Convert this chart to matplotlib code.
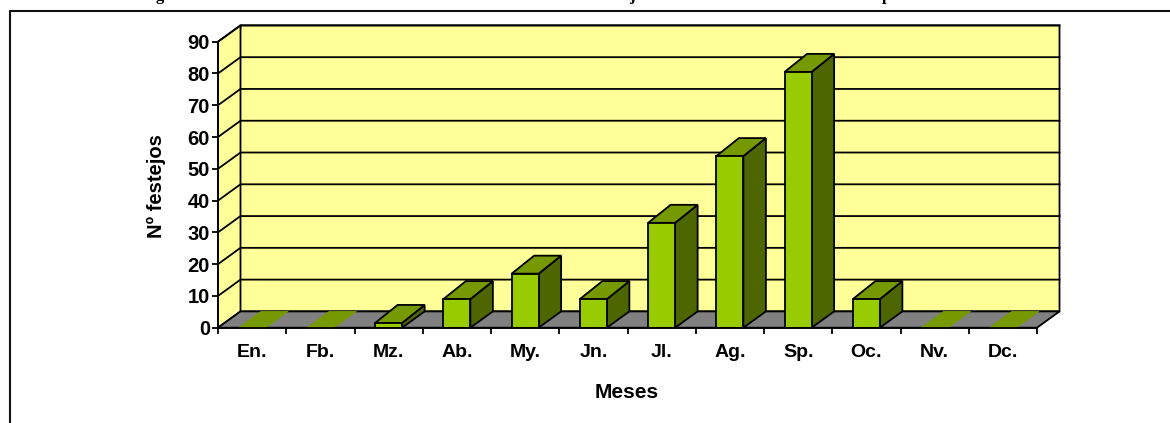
"""Monthly bar chart with an Excel-style pseudo 3D box, drawn in plain 2D axes."""

import matplotlib
matplotlib.use("Agg")
import matplotlib.pyplot as plt
from matplotlib.patches import Polygon
from matplotlib.lines import Line2D

months = ["En.", "Fb.", "Mz.", "Ab.", "My.", "Jn.", "Jl.", "Ag.", "Sp.", "Oc.", "Nv.", "Dc."]
festejos = [0, 0, 1.5, 9, 17, 9, 33, 54, 80.5, 9, 0, 0]
y_ticks = [0, 10, 20, 30, 40, 50, 60, 70, 80, 90]

# only the descenders of the cropped heading are visible in the picture
heading_letters = ["g", "j", "p"]
heading_x_px = [160, 632, 886]

W, H = 1170, 423
LEFT, RIGHT, BASE, TOP = 218, 1037, 327.7, 41.7

WALL = "#FFFF99"
FLOOR = "#808080"
FRONT = "#99CC00"
ROOF = "#779900"
SIDE = "#4D6600"
LW = 1.3

plt.rcParams["font.family"] = ["Liberation Sans", "DejaVu Sans"]

fig = plt.figure(figsize=(W / 100, H / 100), dpi=100)
ax = fig.add_axes([LEFT / W, 1 - BASE / H, (RIGHT - LEFT) / W, (BASE - TOP) / H])
ax.set_xlim(0, 12)
ax.set_ylim(0, 90)
ax.patch.set_visible(False)

# depth of the box, in data units
dx = 22.5 / ((RIGHT - LEFT) / 12)
dy = 16.3 / ((BASE - TOP) / 90)
roof_dy = 18 / ((BASE - TOP) / 90)
bar_w = 27 / ((RIGHT - LEFT) / 12)


def poly(points, color, edge="black", lw=LW, z=2):
    ax.add_patch(Polygon(points, closed=True, facecolor=color, edgecolor=edge,
                         linewidth=lw, clip_on=False, zorder=z, joinstyle="miter"))


# walls and floor
poly([(0, 0), (dx, dy), (12 + dx, dy), (12 + dx, 90 + dy), (dx, 90 + dy)], WALL, z=1)
poly([(0, 0), (dx, dy), (dx, 90 + dy), (0, 90)], WALL, z=1)
poly([(0, 0), (12, 0), (12 + dx, dy), (dx, dy)], FLOOR, z=1)

for v in y_ticks[1:]:
    ax.add_line(Line2D([0, dx, 12 + dx], [v, v + dy, v + dy], color="black",
                       linewidth=LW, clip_on=False, zorder=1.5))

# bars
for i, v in enumerate(festejos):
    x0 = i + 0.5 - bar_w / 2
    x1 = x0 + bar_w
    if v == 0:
        poly([(x0, 0), (x1, 0), (x1 + dx, dy), (x0 + dx, dy)], ROOF, edge=ROOF, lw=0.6, z=2)
        continue
    poly([(x1, 0), (x1 + dx, dy), (x1 + dx, v + roof_dy), (x1, v)], SIDE, z=2)
    poly([(x0, v), (x1, v), (x1 + dx, v + roof_dy), (x0 + dx, v + roof_dy)], ROOF, z=2)
ax.bar([i + 0.5 for i in range(12)], festejos, width=bar_w, color=FRONT,
       edgecolor=["black" if v else "none" for v in festejos], linewidth=LW, zorder=3)

# axes
for side in ("top", "right"):
    ax.spines[side].set_visible(False)
for side in ("left", "bottom"):
    ax.spines[side].set_linewidth(LW)
    ax.spines[side].set_zorder(4)

ax.set_yticks(y_ticks)
ax.set_xticks(range(13))
ax.set_xticklabels([])
ax.set_xticks([i + 0.5 for i in range(12)], minor=True)
ax.set_xticklabels(months, minor=True, fontsize=14, fontweight="bold")
ax.tick_params(axis="x", which="major", length=4, width=LW)
ax.tick_params(axis="x", which="minor", length=0, pad=12)
ax.tick_params(axis="y", length=4.3, width=LW, pad=1.5, labelsize=14.5)
for lab in ax.get_yticklabels():
    lab.set_fontweight("bold")

fig.text(156 / W, 1 - 186 / H, "Nº festejos", rotation=90, ha="center", va="center",
         fontsize=14.5, fontweight="bold")
fig.text(627 / W, 1 - 392 / H, "Meses", ha="center", va="center",
         fontsize=15, fontweight="bold")

# page frame: the chart box runs off the picture on the right and below
fig.add_artist(Line2D([10 / W, 10 / W, 1], [0, 1 - 11 / H, 1 - 11 / H],
                      color="#111111", linewidth=1.5))
for letter, xp in zip(heading_letters, heading_x_px):
    fig.text(xp / W, 1 - 0.5 / H, letter, ha="center", va="baseline", fontsize=12,
             fontweight="bold", family="Liberation Serif")

fig.savefig("out.png", dpi=100)
